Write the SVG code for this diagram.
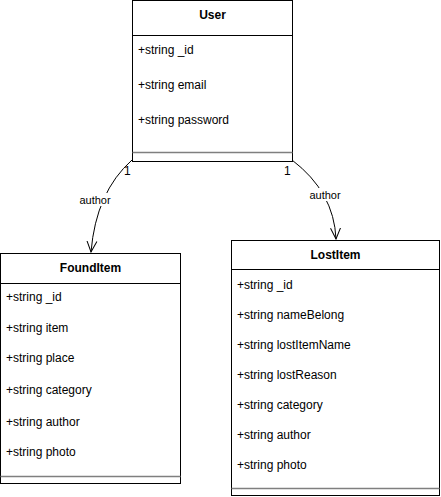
<svg xmlns="http://www.w3.org/2000/svg" width="441" height="497" viewBox="0 0 441 497">
<style>
.box{fill:#fff;stroke:#000;stroke-width:1}
.ln{stroke:#000;stroke-width:1}
.sep{stroke:#7f7f7f;stroke-width:1.5}
.t{font-family:"Liberation Sans",Arial,sans-serif;font-size:12px;fill:#000}
.h{font-family:"Liberation Sans",Arial,sans-serif;font-size:12px;font-weight:bold;fill:#000;text-anchor:middle}
.c{fill:none;stroke:#000;stroke-width:1}
.lbl{font-family:"Liberation Sans",Arial,sans-serif;font-size:11px;fill:#000;text-anchor:middle}
</style>
<defs>
<marker id="open" viewBox="0 0 12 12" refX="11" refY="6" markerWidth="12" markerHeight="12" markerUnits="userSpaceOnUse" orient="auto">
<path d="M0,1 L11,6 L0,11" fill="none" stroke="#000" stroke-width="1"/>
</marker>
</defs>
<g id="connectors">
<path class="c" d="M132,160 Q96,192 91,252" marker-end="url(#open)"/>
<rect x="78" y="193" width="34" height="13" fill="#fff"/>
<text class="lbl" x="95" y="204">author</text>
<text class="t" x="124" y="175">1</text>
<path class="c" d="M292,160 Q334,192 336,239" marker-end="url(#open)"/>
<rect x="308" y="188" width="34" height="13" fill="#fff"/>
<text class="lbl" x="325" y="199">author</text>
<text class="t" x="284" y="175">1</text>
</g>
<g id="User">
<rect class="box" x="132.5" y="0.5" width="160" height="161"/>
<line class="ln" x1="132.5" y1="35.5" x2="292.5" y2="35.5"/>
<text class="h" x="212.5" y="19">User</text>
<text class="t" x="138" y="54">+string _id</text>
<text class="t" x="138" y="89">+string email</text>
<text class="t" x="138" y="124">+string password</text>
<line class="sep" x1="132.5" y1="152.5" x2="292.5" y2="152.5"/>
</g>
<g id="FoundItem">
<rect class="box" x="0.5" y="253.5" width="180" height="230"/>
<line class="ln" x1="0.5" y1="283.5" x2="180.5" y2="283.5"/>
<text class="h" x="90.5" y="272">FoundItem</text>
<text class="t" x="6" y="301">+string _id</text>
<text class="t" x="6" y="332">+string item</text>
<text class="t" x="6" y="362">+string place</text>
<text class="t" x="6" y="394">+string category</text>
<text class="t" x="6" y="426">+string author</text>
<text class="t" x="6" y="456">+string photo</text>
<line class="sep" x1="0.5" y1="476.5" x2="180.5" y2="476.5"/>
</g>
<g id="LostItem">
<rect class="box" x="231.5" y="240.5" width="208" height="255"/>
<line class="ln" x1="231.5" y1="269.5" x2="439.5" y2="269.5"/>
<text class="h" x="335.5" y="259">LostItem</text>
<text class="t" x="237" y="289">+string _id</text>
<text class="t" x="237" y="319">+string nameBelong</text>
<text class="t" x="237" y="349">+string lostItemName</text>
<text class="t" x="237" y="379">+string lostReason</text>
<text class="t" x="237" y="409">+string category</text>
<text class="t" x="237" y="439">+string author</text>
<text class="t" x="237" y="469">+string photo</text>
<line class="sep" x1="231.5" y1="488.5" x2="439.5" y2="488.5"/>
</g>
</svg>
